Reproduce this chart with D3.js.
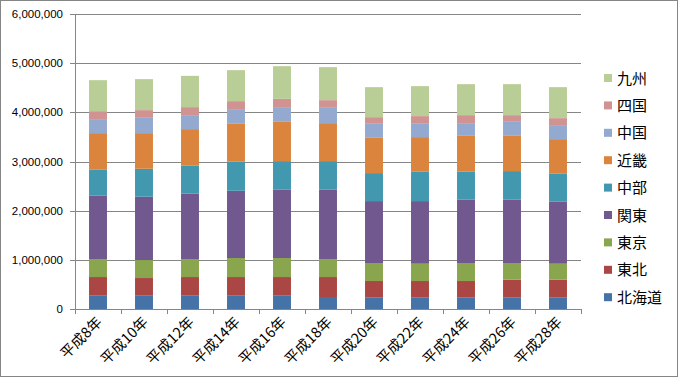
<!DOCTYPE html>
<html>
<head>
<meta charset="utf-8">
<script src="https://cdn.jsdelivr.net/npm/d3@7"></script>
<style>
  body { margin: 0; background: #fff; }
  svg { display: block; font-family: "Liberation Sans", Arial, sans-serif; }
</style>
</head>
<body>
<svg id="chart" width="679" height="378"></svg>
<script>
// categories (x axis)
const years = ['平成8年', '平成10年', '平成12年', '平成14年', '平成16年', '平成18年',
  '平成20年', '平成22年', '平成24年', '平成26年', '平成28年'];

// series, bottom to top
const regions = ['北海道', '東北', '東京', '関東', '中部', '近畿', '中国', '四国', '九州'];

const hokkaido = [270000, 270000, 270000, 270000, 270000, 244000, 230000, 230000, 230000, 230000, 230000];
const tohoku   = [380000, 360000, 380000, 380000, 380000, 406000, 339000, 339000, 339000, 366000, 366000];
const tokyo    = [366000, 366000, 366000, 387000, 387000, 366000, 366000, 352000, 366000, 339000, 325000];
const kanto    = [1287000, 1287000, 1328000, 1367000, 1388000, 1409000, 1260000, 1274000, 1287000, 1287000, 1260000];
const chubu    = [528000, 569000, 569000, 590000, 583000, 583000, 569000, 596000, 569000, 583000, 569000];
const kinki    = [746000, 725000, 746000, 772000, 799000, 772000, 718000, 705000, 731000, 717000, 705000];
const chugoku  = [285000, 311000, 284000, 299000, 299000, 311000, 285000, 271000, 258000, 285000, 285000];
const shikoku  = [162000, 157000, 163000, 163000, 168000, 157000, 135000, 156000, 163000, 136000, 142000];
const kyushu   = [630000, 630000, 636000, 630000, 665000, 671000, 610000, 610000, 630000, 630000, 630000];

const yTicks = [0, 1000000, 2000000, 3000000, 4000000, 5000000, 6000000];

const colors = ['#4572A7', '#AA4643', '#89A54E', '#71588F', '#4198AF',
  '#DB843D', '#93A9CF', '#D19392', '#B9CD96'];

function drawChart() {
  const seriesValues = [hokkaido, tohoku, tokyo, kanto, chubu, kinki, chugoku, shikoku, kyushu];

  // table for d3.stack
  const table = years.map(function(y, i) {
    const row = { year: y };
    regions.forEach(function(r, k) { row[r] = seriesValues[k][i]; });
    return row;
  });

  const svg = d3.select('#chart');

  // outer frame
  svg.append('rect')
    .attr('x', 0.5).attr('y', 0.5)
    .attr('width', 677).attr('height', 376)
    .attr('fill', '#fff')
    .attr('stroke', '#868686');

  const left = 75, right = 581, top = 14, bottom = 309;

  const x = d3.scaleBand().domain(years).range([left, right]).paddingInner(0.61).paddingOuter(0.305);
  const xCat = d3.scaleBand().domain(years).range([left, right]);
  const y = d3.scaleLinear().domain([0, 6000000]).range([bottom, top]);

  // gridlines
  svg.append('g')
    .selectAll('line')
    .data(yTicks)
    .join('line')
    .attr('x1', left - 5).attr('x2', right)
    .attr('y1', d => Math.round(y(d)) + 0.5)
    .attr('y2', d => Math.round(y(d)) + 0.5)
    .attr('stroke', '#868686');

  // y labels
  svg.append('g')
    .selectAll('text')
    .data(yTicks)
    .join('text')
    .attr('x', 63)
    .attr('y', d => y(d) + 4)
    .attr('text-anchor', 'end')
    .attr('font-size', 11.5)
    .attr('fill', '#000')
    .text(d => d3.format(',')(d));

  // stacked bars
  const stack = d3.stack().keys(regions);
  const layers = stack(table);

  svg.append('g')
    .selectAll('g')
    .data(layers)
    .join('g')
    .attr('fill', (d, i) => colors[i])
    .selectAll('rect')
    .data(d => d)
    .join('rect')
    .attr('x', d => x(d.data.year))
    .attr('width', x.bandwidth())
    .attr('y', d => y(d[1]))
    .attr('height', d => y(d[0]) - y(d[1]));

  // axes lines
  svg.append('line')
    .attr('x1', left + 0.5).attr('x2', left + 0.5)
    .attr('y1', top).attr('y2', bottom)
    .attr('stroke', '#868686');

  svg.append('line')
    .attr('x1', left).attr('x2', right)
    .attr('y1', bottom + 0.5).attr('y2', bottom + 0.5)
    .attr('stroke', '#868686');

  // x ticks at category boundaries
  const bounds = years.map(d => xCat(d)).concat([right]);
  svg.append('g')
    .selectAll('line')
    .data(bounds)
    .join('line')
    .attr('x1', d => Math.round(d) + 0.5).attr('x2', d => Math.round(d) + 0.5)
    .attr('y1', bottom).attr('y2', bottom + 5)
    .attr('stroke', '#868686');

  // x labels, rotated
  svg.append('g')
    .selectAll('text')
    .data(years)
    .join('text')
    .attr('transform', d => 'translate(' + (xCat(d) + xCat.bandwidth() / 2 + 5) + ',' + (bottom + 14) + ') rotate(-45)')
    .attr('text-anchor', 'end')
    .attr('font-family', '"Noto Sans CJK JP", sans-serif')
    .attr('font-size', 14.5)
    .attr('fill', '#000')
    .text(d => d);

  // legend, top to bottom reversed
  const legendItems = regions.slice().reverse();
  const legend = svg.append('g')
    .selectAll('g')
    .data(legendItems)
    .join('g')
    .attr('transform', (d, i) => 'translate(604,' + (78 + i * 27.4) + ')');

  legend.append('rect')
    .attr('x', 0).attr('y', -4)
    .attr('width', 8).attr('height', 8)
    .attr('fill', d => colors[regions.indexOf(d)]);

  legend.append('text')
    .attr('x', 13).attr('y', 5.5)
    .attr('font-family', '"Noto Sans CJK JP", sans-serif')
    .attr('font-size', 15)
    .attr('fill', '#000')
    .text(d => d);
}

window.onload = drawChart;
</script>
</body>
</html>
